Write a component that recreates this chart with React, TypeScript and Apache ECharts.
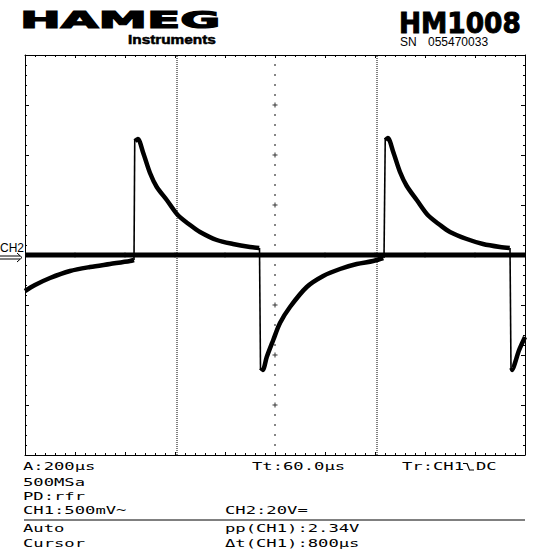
import React, { useEffect, useRef } from "react";
import * as echarts from "echarts";

// Time base: 200 µs/div, 10 divisions; CH1: 500 mV/div, 8 divisions
const timeTicks = [0, 200, 400, 600, 800, 1000, 1200, 1400, 1600, 1800, 2000];
const voltTicks = [-2, -1.5, -1, -0.5, 0, 0.5, 1, 1.5, 2];

// CH1 trace (t in µs, V)
const ch1Recovery0 = [[0, -0.36], [40, -0.3], [100, -0.23], [180, -0.16], [260, -0.12], [340, -0.09], [420, -0.06], [436, -0.05]];
const ch1Decay1 = [[440, 1.14], [451, 1.16], [473, 1.02], [500, 0.82], [527, 0.68], [567, 0.55], [611, 0.4], [660, 0.3], [700, 0.23], [767, 0.15], [832, 0.11], [900, 0.08], [937, 0.07]];
const ch1Recovery1 = [[944, -1.13], [951, -1.15], [967, -1.02], [993, -0.85], [1020, -0.68], [1060, -0.52], [1127, -0.32], [1193, -0.21], [1260, -0.14], [1327, -0.09], [1393, -0.06], [1433, -0.03]];
const ch1Decay2 = [[1442, 1.15], [1451, 1.17], [1473, 1.03], [1500, 0.83], [1527, 0.69], [1567, 0.55], [1611, 0.4], [1660, 0.3], [1700, 0.23], [1767, 0.16], [1832, 0.11], [1900, 0.08], [1939, 0.07]];
const ch1Recovery2 = [[1946, -1.13], [1949, -1.15], [1960, -1.08], [1975, -0.96], [2000, -0.82]];
const ch1Edges = [
  [[436, -0.05], [439, 1.16]],
  [[938, 0.07], [942, -1.15]],
  [[1436, -0.03], [1441, 1.17]],
  [[1940, 0.07], [1944, -1.15]],
];
// CH2 trace (20 V/div), flat at 0 V
const ch2Trace = [[0, 0], [2000, 0]];
// Cursors (µs)
const cursorTimes = [608, 1408];

// Readouts
const readoutLeft = ["A:200µs", "500MSa", "PD:rfr", "CH1:500mV~"];
const readoutBottomLeft = ["Auto", "Cursor"];
const readoutBottomMid = ["pp(CH1):2.34V", "Δt(CH1):800µs"];

export default function App() {
  const ref = useRef<HTMLDivElement>(null);
  useEffect(() => {
    document.body.style.margin = "0";
    const chart = echarts.init(ref.current!, null, { renderer: "svg" });
    const black = "#000";
    const mono = '10px "DejaVu Sans Mono"';
    const sx = 1.72;
    const axisCommon = {
      type: "value" as const,
      axisLine: { show: true, onZero: false, lineStyle: { color: black, width: 1 } },
      axisLabel: { show: false },
      splitLine: { show: false },
    };
    const xAx = (position: string) => ({
      ...axisCommon,
      position,
      min: 0,
      max: 2000,
      interval: 200,
      axisTick: { show: true, inside: true, length: 3, lineStyle: { color: black } },
      minorTick: { show: true, splitNumber: 5, length: 2, lineStyle: { color: black } },
    });
    const yAx = (position: string) => ({
      ...axisCommon,
      position,
      min: -2,
      max: 2,
      interval: 0.5,
      axisTick: { show: true, inside: true, length: 4, lineStyle: { color: black } },
      minorTick: { show: true, splitNumber: 5, length: 2, lineStyle: { color: black } },
    });

    const lineS = (data: any, width: number, extra: any = {}, smooth: any = false) => ({
      type: "line",
      data,
      symbol: "none",
      showSymbol: false,
      silent: true,
      smooth,
      lineStyle: { color: black, width, ...extra },
      z: 3,
    });

    // centre graticule: crosses at major divisions, dots at minor divisions
    const crosses: number[][] = [];
    const dots: number[][] = [];
    voltTicks.forEach((v) => {
      if (v !== 0 && Math.abs(v) !== 2) crosses.push([1000, v]);
    });
    timeTicks.forEach((t) => {
      if (t !== 1000 && t !== 0 && t !== 2000) crosses.push([t, 0]);
    });
    for (let i = -19; i <= 19; i++) {
      if (i % 5 !== 0) dots.push([1000, i / 10]);
    }
    for (let i = 1; i < 50; i++) {
      if (i % 5 !== 0) dots.push([i * 40, 0]);
    }

    const series: any[] = [
      {
        type: "scatter",
        data: dots,
        symbol: "rect",
        symbolSize: 1.6,
        itemStyle: { color: black },
        silent: true,
      },
      {
        type: "scatter",
        data: crosses,
        symbol: "path://M2,0H3V2H5V3H3V5H2V3H0V2H2Z",
        symbolSize: 5,
        itemStyle: { color: black },
        silent: true,
      },
      ...cursorTimes.map((t) => lineS([[t, -2], [t, 2]], 1, { type: [1, 1] })),
      { ...lineS(ch2Trace, 5), yAxisIndex: 2 },
      ...[ch1Recovery0, ch1Decay1, ch1Recovery1, ch1Decay2, ch1Recovery2].map((d) => lineS(d, 4.5, {}, 0.3)),
      ...ch1Edges.map((d) => lineS(d, 1.6)),
    ];

    const graphic: any[] = [
      { type: "text", x: 20, y: 20, scaleX: 2.12, style: { text: "HAMEG", font: 'bold 23px "DejaVu Sans"', fill: black, stroke: black, lineWidth: 1.2, verticalAlign: "middle" } },
      { type: "text", x: 128, y: 40, scaleX: 1.28, style: { text: "Instruments", font: 'bold 12px "Liberation Sans"', fill: black, stroke: black, lineWidth: 0.5, verticalAlign: "middle" } },
      { type: "text", x: 399, y: 23.2, scaleX: 0.91, style: { text: "HM1008", font: 'bold 29px "DejaVu Sans"', fill: black, stroke: black, lineWidth: 1, verticalAlign: "middle" } },
      { type: "text", x: 400, y: 41.7, style: { text: "SN", font: '12px "Liberation Sans"', fill: black, verticalAlign: "middle" } },
      { type: "text", x: 428, y: 41.7, style: { text: "055470033", font: '12px "Liberation Sans"', fill: black, verticalAlign: "middle" } },
      // channel marker
      { type: "text", x: 0, y: 247.5, style: { text: "CH2", font: '12px "Liberation Sans"', fill: black, verticalAlign: "middle" } },
      { type: "line", shape: { x1: 0, y1: 256, x2: 20, y2: 256 }, style: { stroke: black, lineWidth: 1 } },
      { type: "line", shape: { x1: 0, y1: 259, x2: 20, y2: 259 }, style: { stroke: black, lineWidth: 1 } },
      { type: "polyline", shape: { points: [[17, 253], [22, 257.5], [17, 262]] }, style: { stroke: black, lineWidth: 1, fill: null } },
      // separator
      { type: "line", shape: { x1: 24, y1: 520, x2: 525, y2: 520 }, style: { stroke: black, lineWidth: 1 } },
    ];
    const rowsY = [466.7, 482, 496.2, 510.3];
    readoutLeft.forEach((t, i) => {
      graphic.push({ type: "text", x: 23, y: rowsY[i], scaleX: sx, style: { text: t, font: mono, fill: black, verticalAlign: "middle" } });
    });
    const rows2Y = [528.7, 543.3];
    readoutBottomLeft.forEach((t, i) => {
      graphic.push({ type: "text", x: 23, y: rows2Y[i], scaleX: sx, style: { text: t, font: mono, fill: black, verticalAlign: "middle" } });
    });
    readoutBottomMid.forEach((t, i) => {
      graphic.push({ type: "text", x: 225, y: rows2Y[i], scaleX: sx, style: { text: t, font: mono, fill: black, verticalAlign: "middle" } });
    });
    graphic.push({ type: "text", x: 252, y: rowsY[0], scaleX: sx, style: { text: "Tt:60.0µs", font: mono, fill: black, verticalAlign: "middle" } });
    graphic.push({ type: "text", x: 402, y: rowsY[0], scaleX: sx, style: { text: "Tr:CH1", font: mono, fill: black, verticalAlign: "middle" } });
    graphic.push({ type: "polyline", shape: { points: [[463, 463.5], [467, 463.5], [469.5, 470], [474, 470]] }, style: { stroke: black, lineWidth: 1.2, fill: null } });
    graphic.push({ type: "text", x: 476, y: rowsY[0], scaleX: sx, style: { text: "DC", font: mono, fill: black, verticalAlign: "middle" } });
    graphic.push({ type: "text", x: 225, y: rowsY[3], scaleX: sx, style: { text: "CH2:20V=", font: mono, fill: black, verticalAlign: "middle" } });

    chart.setOption({
      animation: false,
      backgroundColor: "#fff",
      grid: { left: 25, top: 55, width: 500, height: 400, containLabel: false },
      xAxis: [xAx("bottom"), xAx("top")],
      yAxis: [yAx("left"), yAx("right"), { type: "value", min: -80, max: 80, show: false }],
      series,
      graphic,
    });
    return () => chart.dispose();
  }, []);
  return <div ref={ref} style={{ position: "fixed", left: 0, top: 0, width: 550, height: 550 }} />;
}
